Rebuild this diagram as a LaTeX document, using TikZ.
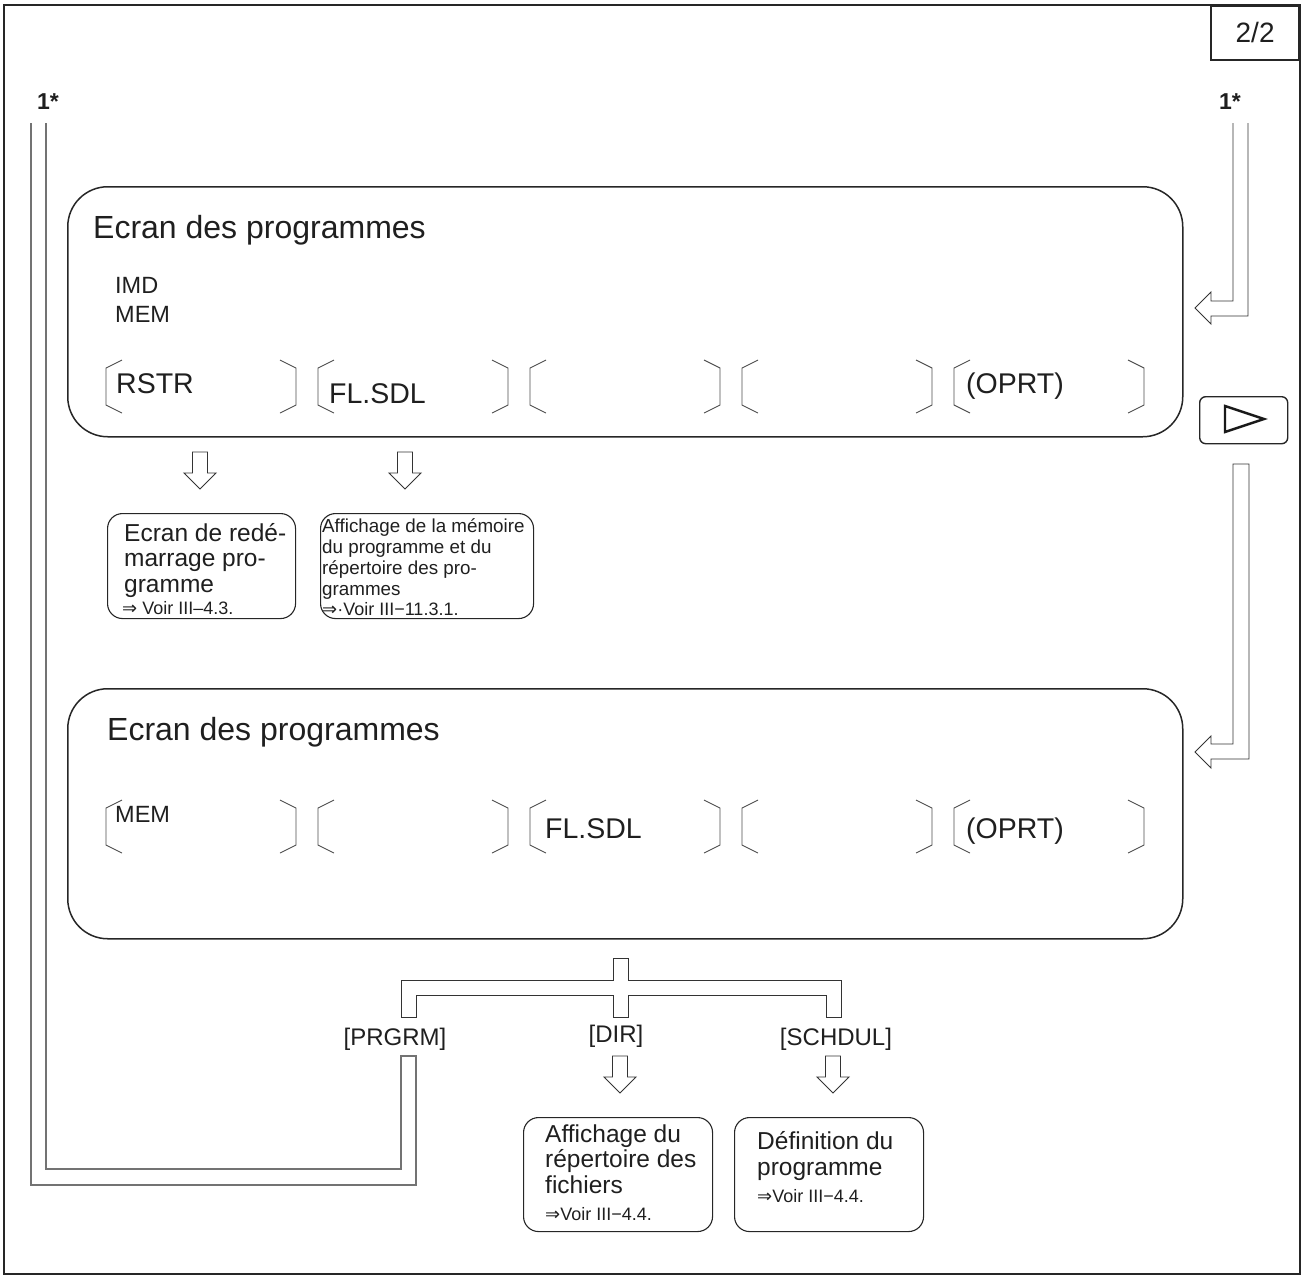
\documentclass[tikz,border=0pt]{standalone}
\usepackage{fontspec}
\setmainfont{Liberation Sans}
\newfontfamily\symfont{DejaVu Sans}
\newcommand{\impl}{{\symfont ⇒}}
\begin{document}
\begin{tikzpicture}[x=1pt,y=-1pt,
  ink/.style={text=black!88},
  frame/.style={draw=black!85,line width=1.8pt},
  screen/.style={draw=black!85,line width=1.5pt,rounded corners=40pt,anchor=north west,inner sep=0pt},
  hint/.style={draw=black!85,line width=1.1pt,rounded corners=15pt,anchor=north west,inner sep=0pt},
  conn/.style={draw=black!80,line width=0.9pt},
  loopline/.style={draw=black!55,line width=1.1pt},
  keyline/.style={draw=black!70,line width=0.9pt},
  % multi-line texts are placed by the baseline of their last line
  txt/.style={ink,inner sep=0pt,anchor=base west,align=left},
  title/.style={txt,font=\fontsize{32}{36}\selectfont},
  mode/.style={txt,font=\fontsize{23.5}{29}\selectfont},
  keylabel/.style={txt,font=\fontsize{28.5}{32}\selectfont},
  bigtext/.style={txt,font=\fontsize{24.5}{25.5}\selectfont},
  smalltext/.style={txt,font=\fontsize{18.8}{21}\selectfont},
  reftext/.style={txt,font=\fontsize{18}{20}\selectfont},
  menulabel/.style={ink,inner sep=0pt,anchor=base,font=\fontsize{24}{28}\selectfont},
  pics/softkey/.style={code={
    \draw[keyline] (16,0)--(0,8)--(0,45)--(16,53);
    \draw[keyline] (174,0)--(190,8)--(190,45)--(174,53);}},
  pics/downarrow/.style={code={
    \draw[conn] (-7.5,0)--(-7.5,21)--(-16,21)--(0,37)--(16,21)--(7.5,21)--(7.5,0)--cycle;}}
]
\useasboundingbox (0,0) rectangle (1302,1275);

% page frame and page counter
\draw[frame] (4,5) rectangle (1300,1274);
\node[frame,anchor=north east,minimum width=88pt,minimum height=54pt,inner sep=0pt,
      font=\fontsize{28}{32}\selectfont,ink] (page) at (1300,5) {2/2};

% continuation marks
\node[ink,font=\bfseries\fontsize{23}{28}\selectfont,inner sep=0pt] (contL) at (48,102) {1*};
\node[ink,font=\bfseries\fontsize{23}{28}\selectfont,inner sep=0pt] (contR) at (1230,102) {1*};

% ---------- first program screen ----------
\node[screen,minimum width=1115pt,minimum height=250pt] (scrA) at (67,186) {};
\node[title] (scrAtitle) at (93,238) {Ecran des programmes};
\node[mode] (scrAmode) at (115,322) {IMD\\MEM};
\foreach \i/\x in {1/106,2/318,3/530,4/742,5/954}
  \pic (keyA\i) at (\x,360) {softkey};
\node[keylabel] (kA1) at (116,393) {RSTR};
\node[keylabel] (kA2) at (329,403) {FL.SDL};
\node[keylabel] (kA5) at (966,393) {(OPRT)};

% next-menu key
\node[draw=black!85,line width=1.4pt,rounded corners=6pt,minimum width=88pt,minimum height=47pt,
      anchor=north west,inner sep=0pt] (nextkey) at (1199,396) {};
\draw[draw=black!90,line width=2.4pt,line join=miter] (1225,406)--(1264,419)--(1225,432)--cycle;

% entry from 1* into the first screen
\coordinate (inA) at (1195,308);
\draw[conn] (1233,123)--(1233,301)--(1211,301)--(1211,292)--(inA)--(1211,324)--(1211,316)--(1248,316)--(1248,123);

% soft key results
\pic (arrRSTR) at (200,452) {downarrow};
\pic (arrFL) at (405,452) {downarrow};
\node[hint,minimum width=188pt,minimum height=105pt] (restart) at (107,513) {};
\node[bigtext] (restartT) at (124,592) {Ecran de redé-\\marrage pro-\\gramme};
\node[reftext] (restartR) at (122,614) {\impl\ Voir III–4.3.};
\node[hint,minimum width=213pt,minimum height=105pt] (memdir) at (320,513) {};
\node[smalltext] (memdirT) at (322,595) {Affichage de la mémoire\\du programme et du\\répertoire des pro-\\grammes};
\node[reftext] (memdirR) at (322,615) {\impl·Voir III−11.3.1.};

% ---------- second program screen ----------
\draw[conn] (1233,464)--(1233,744)--(1211,744)--(1211,736)--(1195,752)--(1211,768)--(1211,759)--(1249,759)--(1249,464)--cycle;
\node[screen,minimum width=1115pt,minimum height=250pt] (scrB) at (67,688) {};
\node[title] (scrBtitle) at (107,740) {Ecran des programmes};
\node[mode] (scrBmode) at (115,822) {MEM};
\foreach \i/\x in {1/106,2/318,3/530,4/742,5/954}
  \pic (keyB\i) at (\x,800) {softkey};
\node[keylabel] (kB3) at (545,838) {FL.SDL};
\node[keylabel] (kB5) at (966,838) {(OPRT)};

% branch below FL.SDL
\draw[conn] (613,980)--(613,958)--(628,958)--(628,980)--(841,980)--(841,1017)--(826,1017)--(826,995)
  --(628,995)--(628,1017)--(613,1017)--(613,995)--(416,995)--(416,1017)--(401,1017)--(401,980)--cycle;
\node[menulabel] (prgrm) at (395,1045) {[PRGRM]};
\node[menulabel] (dir) at (616,1042) {[DIR]};
\node[menulabel] (schdul) at (836,1045) {[SCHDUL]};

% return path from [PRGRM] to 1*
\draw[loopline] (31,123)--(31,1185)--(416,1185)--(416,1056)--(401,1056)--(401,1169)--(46,1169)--(46,123);

% results of [DIR] and [SCHDUL]
\pic (arrDIR) at (620,1056) {downarrow};
\pic (arrSCH) at (833,1056) {downarrow};
\node[hint,minimum width=189pt,minimum height=114pt] (filedir) at (523,1117) {};
\node[bigtext] (filedirT) at (545,1193) {Affichage du\\répertoire des\\fichiers};
\node[reftext] (filedirR) at (545,1220) {\impl Voir III−4.4.};
\node[hint,minimum width=189pt,minimum height=114pt] (progdef) at (734,1117) {};
\node[bigtext] (progdefT) at (757,1175) {Définition du\\programme};
\node[reftext] (progdefR) at (757,1202) {\impl Voir III−4.4.};
\end{tikzpicture}
\end{document}
